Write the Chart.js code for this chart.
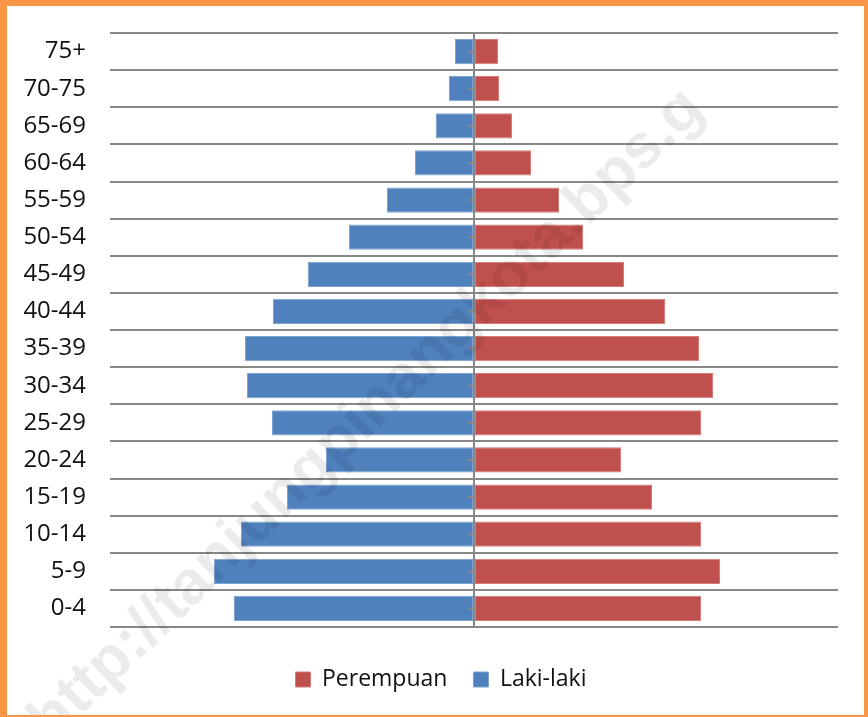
<!DOCTYPE html>
<html>
<head>
<meta charset="utf-8">
<script src="https://cdn.jsdelivr.net/npm/chart.js@4"></script>
<style>
    html, body { margin: 0; padding: 0; background: #fff; }
    #wrap { position: relative; width: 868px; height: 717px; overflow: hidden; }
    #frame {
        position: absolute; left: 0; top: 0; width: 868px; height: 717px;
        box-sizing: border-box;
        border-style: solid; border-color: #F79646;
        border-width: 6px 4px 2px 7px;
        pointer-events: none;
    }
    #mark {
        position: absolute; left: 16px; top: 706px;
        transform-origin: 0 0; transform: rotate(-44deg);
        font: bold 62px/1 "Liberation Sans", Arial, sans-serif;
        color: rgba(0, 0, 0, 0.08);
        white-space: nowrap; pointer-events: none;
    }
</style>
</head>
<body>
<div id="wrap">
    <canvas id="pyramid" width="868" height="717"></canvas>
    <div id="mark">http://tanjungpinangkota.bps.g</div>
    <div id="frame"></div>
</div>
<script>
const ageGroups = ['0-4', '5-9', '10-14', '15-19', '20-24', '25-29', '30-34', '35-39',
    '40-44', '45-49', '50-54', '55-59', '60-64', '65-69', '70-75', '75+'];
const lakiLaki = [2400, 2600, 2330, 1870, 1480, 2020, 2270, 2290, 2010, 1660, 1250, 870, 590, 380, 250, 190];
const perempuan = [2270, 2460, 2270, 1780, 1470, 2270, 2390, 2250, 1910, 1500, 1090, 850, 570, 380, 250, 240];
const axisMax = 3640;

const gridGray = '#878787';

// little tick marks on the centre axis
const centreTicks = {
    id: 'centreTicks',
    afterDatasetsDraw(chart) {
        const ctx = chart.ctx;
        const x0 = chart.scales.x.getPixelForValue(0);
        const y = chart.scales.y;
        ctx.save();
        ctx.strokeStyle = gridGray;
        ctx.lineWidth = 2;
        ageGroups.forEach((g, i) => {
            const py = y.getPixelForTick(i);
            ctx.beginPath();
            ctx.moveTo(x0 - 6, py);
            ctx.lineTo(x0, py);
            ctx.stroke();
        });
        ctx.restore();
    }
};

// legend sits a bit right of the canvas centre
const legendShift = {
    id: 'legendShift',
    afterLayout(chart) {
        chart.legend.left = 44;
    }
};

new Chart(document.getElementById('pyramid'), {
    type: 'bar',
    data: {
        labels: ageGroups,
        datasets: [{
            label: 'Perempuan',
            data: perempuan,
            backgroundColor: '#C0504D',
            borderColor: '#D37C79',
            borderWidth: 1,
            borderSkipped: false,
            barPercentage: 0.68,
            categoryPercentage: 1
        }, {
            label: 'Laki-laki',
            data: lakiLaki.map(v => -v),
            backgroundColor: '#4F81BD',
            borderColor: '#7FA3CF',
            borderWidth: 1,
            borderSkipped: false,
            barPercentage: 0.68,
            categoryPercentage: 1
        }]
    },
    options: {
        indexAxis: 'y',
        responsive: false,
        animation: false,
        layout: { padding: { top: 33, right: 30, bottom: 16, left: 0 } },
        scales: {
            x: {
                stacked: true,
                min: -axisMax,
                max: axisMax,
                ticks: { display: false, stepSize: axisMax },
                border: { display: false },
                grid: {
                    drawTicks: false,
                    lineWidth: 2,
                    color: c => c.tick && c.tick.value === 0 ? gridGray : 'rgba(0,0,0,0)'
                },
                afterFit: axis => { axis.height = 15; axis.paddingLeft = 0; axis.paddingRight = 0; }
            },
            y: {
                stacked: true,
                reverse: true,
                border: { display: false },
                grid: { drawTicks: false, lineWidth: 2, color: gridGray, offset: true },
                ticks: {
                    padding: 24,
                    color: '#111',
                    font: { family: 'Open Sans', size: 24 }
                },
                afterFit: axis => { axis.width = 110; axis.paddingTop = 0; axis.paddingBottom = 0; }
            }
        },
        plugins: {
            legend: {
                position: 'bottom',
                labels: {
                    boxWidth: 15,
                    boxHeight: 15,
                    padding: 26,
                    color: '#111',
                    font: { family: 'Open Sans', size: 23 }
                }
            },
            tooltip: {
                callbacks: { label: c => c.dataset.label + ': ' + Math.abs(c.raw) }
            }
        }
    },
    plugins: [centreTicks, legendShift]
});
</script>
</body>
</html>
